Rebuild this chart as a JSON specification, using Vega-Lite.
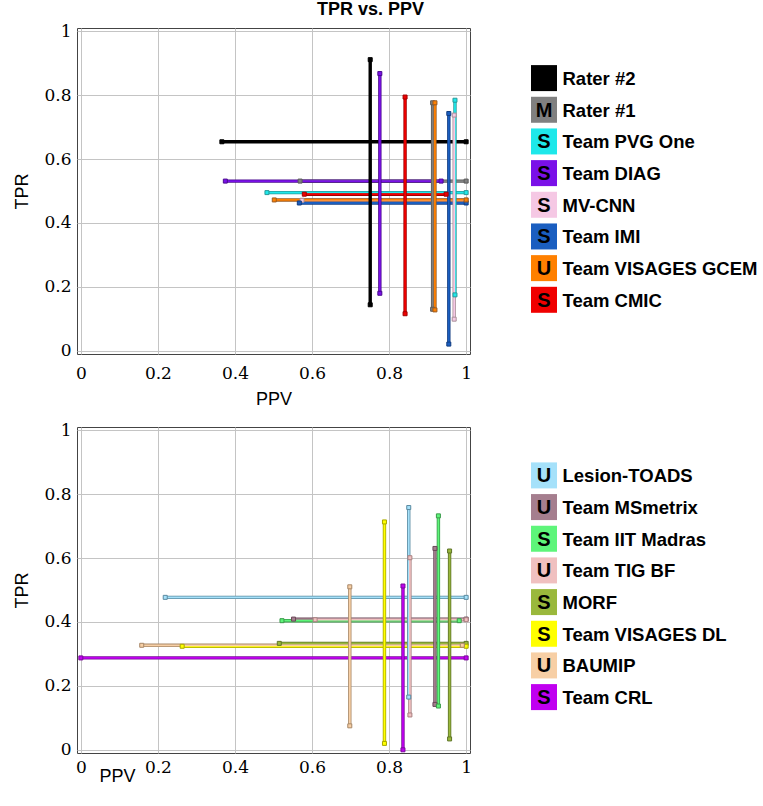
{
  "$schema": "https://vega.github.io/schema/vega-lite/v6.json",
  "padding": {"left": 13, "top": 0, "right": 0, "bottom": 0},
  "title": {"text": "TPR vs. PPV", "font": "Liberation Sans", "fontSize": 18, "fontWeight": "bold", "anchor": "middle", "offset": 3, "dx": -15, "color": "#000"},
  "config": {
    "view": {"stroke": "#444", "strokeWidth": 1},
    "axis": {"grid": true, "gridColor": "#c4c4c4", "gridWidth": 1, "domain": false, "ticks": false, "labelFont": "DejaVu Serif", "labelFontSize": 17, "labelColor": "#000", "labelFlush": false, "labelPadding": 6, "titleFont": "Liberation Sans", "titleFontSize": 18, "titleFontWeight": "normal", "titleColor": "#000", "titlePadding": 9}
  },
  "datasets": {
    "top": [
      {"method": "Rater #2", "letter": "", "ppv": 0.751, "ppv_lo": 0.366, "ppv_hi": 1.0, "tpr": 0.654, "tpr_lo": 0.144, "tpr_hi": 0.911},
      {"method": "Rater #1", "letter": "M", "ppv": 0.913, "ppv_lo": 0.569, "ppv_hi": 1.0, "tpr": 0.531, "tpr_lo": 0.13, "tpr_hi": 0.776},
      {"method": "Team PVG One", "letter": "S", "ppv": 0.971, "ppv_lo": 0.483, "ppv_hi": 1.0, "tpr": 0.495, "tpr_lo": 0.175, "tpr_hi": 0.784},
      {"method": "Team DIAG", "letter": "S", "ppv": 0.776, "ppv_lo": 0.375, "ppv_hi": 0.935, "tpr": 0.531, "tpr_lo": 0.18, "tpr_hi": 0.8675},
      {"method": "MV-CNN", "letter": "S", "ppv": 0.969, "ppv_lo": 0.574, "ppv_hi": 1.0, "tpr": 0.471, "tpr_lo": 0.099, "tpr_hi": 0.7375},
      {"method": "Team IMI", "letter": "S", "ppv": 0.955, "ppv_lo": 0.567, "ppv_hi": 1.0, "tpr": 0.4625, "tpr_lo": 0.021, "tpr_hi": 0.7425},
      {"method": "Team VISAGES GCEM", "letter": "U", "ppv": 0.919, "ppv_lo": 0.502, "ppv_hi": 1.0, "tpr": 0.472, "tpr_lo": 0.128, "tpr_hi": 0.776},
      {"method": "Team CMIC", "letter": "S", "ppv": 0.8415, "ppv_lo": 0.58, "ppv_hi": 0.948, "tpr": 0.49, "tpr_lo": 0.116, "tpr_hi": 0.794}
    ],
    "bottom": [
      {"method": "Lesion-TOADS", "letter": "U", "ppv": 0.851, "ppv_lo": 0.219, "ppv_hi": 1.0, "tpr": 0.477, "tpr_lo": 0.165, "tpr_hi": 0.758},
      {"method": "Team MSmetrix", "letter": "U", "ppv": 0.919, "ppv_lo": 0.552, "ppv_hi": 1.0, "tpr": 0.409, "tpr_lo": 0.142, "tpr_hi": 0.63},
      {"method": "Team IIT Madras", "letter": "S", "ppv": 0.928, "ppv_lo": 0.522, "ppv_hi": 0.982, "tpr": 0.404, "tpr_lo": 0.137, "tpr_hi": 0.732},
      {"method": "Team TIG BF", "letter": "U", "ppv": 0.854, "ppv_lo": 0.608, "ppv_hi": 1.0, "tpr": 0.407, "tpr_lo": 0.109, "tpr_hi": 0.601},
      {"method": "MORF", "letter": "S", "ppv": 0.957, "ppv_lo": 0.515, "ppv_hi": 1.0, "tpr": 0.333, "tpr_lo": 0.034, "tpr_hi": 0.622},
      {"method": "Team VISAGES DL", "letter": "S", "ppv": 0.788, "ppv_lo": 0.263, "ppv_hi": 1.0, "tpr": 0.324, "tpr_lo": 0.02, "tpr_hi": 0.713},
      {"method": "BAUMIP", "letter": "U", "ppv": 0.698, "ppv_lo": 0.158, "ppv_hi": 0.99, "tpr": 0.327, "tpr_lo": 0.075, "tpr_hi": 0.51},
      {"method": "Team CRL", "letter": "S", "ppv": 0.836, "ppv_lo": 0.0, "ppv_hi": 1.0, "tpr": 0.2875, "tpr_lo": 0.0, "tpr_hi": 0.5125}
    ]
  },
  "vconcat": [
    {
      "hconcat": [
        {
          "width": 393, "height": 326,
          "data": {"name": "top"},
          "layer": [
            {"mark": {"type": "rule", "strokeWidth": 3.4}, "encoding": {"x": {"field": "ppv_lo", "type": "quantitative", "scale": {"domain": [-0.01, 1.01], "nice": false, "zero": false}, "axis": {"values": [0, 0.2, 0.4, 0.6, 0.8, 1], "format": "~g", "title": "PPV", "labelPadding": 11}}, "x2": {"field": "ppv_hi"}, "y": {"field": "tpr", "type": "quantitative", "scale": {"domain": [-0.01, 1.01], "nice": false, "zero": false}, "axis": {"values": [0, 0.2, 0.4, 0.6, 0.8, 1], "format": "~g", "title": "TPR", "titlePadding": 12}}, "stroke": {"field": "method", "type": "nominal", "scale": {"domain": ["Rater #2","Rater #1","Team PVG One","Team DIAG","MV-CNN","Team IMI","Team VISAGES GCEM","Team CMIC"], "range": ["#000000","#5a5a5a","#2a9a9a","#4a0a90","#a89098","#123d80","#9a5a20","#a00000"]}, "legend": null}}},
            {"mark": {"type": "rule", "strokeWidth": 1.8}, "encoding": {"x": {"field": "ppv_lo", "type": "quantitative"}, "x2": {"field": "ppv_hi"}, "y": {"field": "tpr", "type": "quantitative"}, "color": {"field": "method", "type": "nominal", "scale": {"domain": ["Rater #2","Rater #1","Team PVG One","Team DIAG","MV-CNN","Team IMI","Team VISAGES GCEM","Team CMIC"], "range": ["#000000","#808080","#1ee8ea","#7a10e8","#f5c8e4","#1a5ec0","#ff8000","#f00000"]}, "legend": null}}},
            {"mark": {"type": "rule", "strokeWidth": 3.4}, "encoding": {"x": {"field": "ppv", "type": "quantitative"}, "y": {"field": "tpr_lo", "type": "quantitative"}, "y2": {"field": "tpr_hi"}, "stroke": {"field": "method", "type": "nominal", "legend": null}}},
            {"mark": {"type": "rule", "strokeWidth": 1.8}, "encoding": {"x": {"field": "ppv", "type": "quantitative"}, "y": {"field": "tpr_lo", "type": "quantitative"}, "y2": {"field": "tpr_hi"}, "color": {"field": "method", "type": "nominal", "legend": null}}},
            {"mark": {"type": "square", "size": 16, "filled": true, "strokeWidth": 1, "opacity": 1}, "encoding": {"x": {"field": "ppv_lo", "type": "quantitative"}, "y": {"field": "tpr", "type": "quantitative"}, "color": {"field": "method", "type": "nominal", "legend": null}, "stroke": {"field": "method", "type": "nominal", "legend": null}}},
            {"mark": {"type": "square", "size": 16, "filled": true, "strokeWidth": 1, "opacity": 1}, "encoding": {"x": {"field": "ppv_hi", "type": "quantitative"}, "y": {"field": "tpr", "type": "quantitative"}, "color": {"field": "method", "type": "nominal", "legend": null}, "stroke": {"field": "method", "type": "nominal", "legend": null}}},
            {"mark": {"type": "square", "size": 16, "filled": true, "strokeWidth": 1, "opacity": 1}, "encoding": {"x": {"field": "ppv", "type": "quantitative"}, "y": {"field": "tpr_lo", "type": "quantitative"}, "color": {"field": "method", "type": "nominal", "legend": null}, "stroke": {"field": "method", "type": "nominal", "legend": null}}},
            {"mark": {"type": "square", "size": 16, "filled": true, "strokeWidth": 1, "opacity": 1}, "encoding": {"x": {"field": "ppv", "type": "quantitative"}, "y": {"field": "tpr_hi", "type": "quantitative"}, "color": {"field": "method", "type": "nominal", "legend": null}, "stroke": {"field": "method", "type": "nominal", "legend": null}}}
          ]
        },
        {
          "width": 26, "height": 326,
          "view": {"stroke": null},
          "data": {"name": "top"},
          "encoding": {"y": {"field": "method", "type": "nominal", "scale": {"type": "point", "domain": ["Rater #2","Rater #1","Team PVG One","Team DIAG","MV-CNN","Team IMI","Team VISAGES GCEM","Team CMIC"], "range": [50.1, 271.8], "padding": 0}, "axis": null}},
          "layer": [
            {"mark": {"type": "square", "size": 676, "opacity": 1}, "encoding": {"color": {"field": "method", "type": "nominal", "scale": {"domain": ["Rater #2","Rater #1","Team PVG One","Team DIAG","MV-CNN","Team IMI","Team VISAGES GCEM","Team CMIC"], "range": ["#000000","#808080","#1ee8ea","#7a10e8","#f5c8e4","#1a5ec0","#ff8000","#f00000"]}, "legend": null}}},
            {"mark": {"type": "text", "font": "Liberation Sans", "fontWeight": "bold", "fontSize": 20, "align": "center", "baseline": "middle", "dy": 1, "color": "#000"}, "encoding": {"text": {"field": "letter"}}},
            {"mark": {"type": "text", "font": "Liberation Sans", "fontWeight": "bold", "fontSize": 18.5, "align": "left", "baseline": "middle", "dx": 18.5, "dy": 1, "color": "#000"}, "encoding": {"text": {"field": "method"}}}
          ]
        }
      ],
      "spacing": 58,
      "resolve": {"scale": {"x": "independent", "y": "independent", "color": "independent", "stroke": "independent"}}
    },
    {
      "hconcat": [
        {
          "width": 393, "height": 326,
          "data": {"name": "bottom"},
          "layer": [
            {"mark": {"type": "rule", "strokeWidth": 3.4}, "encoding": {"x": {"field": "ppv_lo", "type": "quantitative", "scale": {"domain": [-0.01, 1.01], "nice": false, "zero": false}, "axis": {"values": [0, 0.2, 0.4, 0.6, 0.8, 1], "format": "~g", "title": "PPV", "labelPadding": 6, "titleX": 40, "titleY": 14, "titleAlign": "center", "titleBaseline": "top", "titleAnchor": null}}, "x2": {"field": "ppv_hi"}, "y": {"field": "tpr", "type": "quantitative", "scale": {"domain": [-0.01, 1.01], "nice": false, "zero": false}, "axis": {"values": [0, 0.2, 0.4, 0.6, 0.8, 1], "format": "~g", "title": "TPR", "titlePadding": 12}}, "stroke": {"field": "method", "type": "nominal", "scale": {"domain": ["Lesion-TOADS","Team MSmetrix","Team IIT Madras","Team TIG BF","MORF","Team VISAGES DL","BAUMIP","Team CRL"], "range": ["#5a8aa0","#6a4858","#3a9a4a","#a88080","#5e7428","#a8a800","#a88868","#7a0a9a"]}, "legend": null}}},
            {"mark": {"type": "rule", "strokeWidth": 1.8}, "encoding": {"x": {"field": "ppv_lo", "type": "quantitative"}, "x2": {"field": "ppv_hi"}, "y": {"field": "tpr", "type": "quantitative"}, "color": {"field": "method", "type": "nominal", "scale": {"domain": ["Lesion-TOADS","Team MSmetrix","Team IIT Madras","Team TIG BF","MORF","Team VISAGES DL","BAUMIP","Team CRL"], "range": ["#a5e1fa","#a57e8e","#5ef57a","#f0c0c0","#9ab83c","#ffff00","#f7cfa5","#c000f0"]}, "legend": null}}},
            {"mark": {"type": "rule", "strokeWidth": 3.4}, "encoding": {"x": {"field": "ppv", "type": "quantitative"}, "y": {"field": "tpr_lo", "type": "quantitative"}, "y2": {"field": "tpr_hi"}, "stroke": {"field": "method", "type": "nominal", "legend": null}}},
            {"mark": {"type": "rule", "strokeWidth": 1.8}, "encoding": {"x": {"field": "ppv", "type": "quantitative"}, "y": {"field": "tpr_lo", "type": "quantitative"}, "y2": {"field": "tpr_hi"}, "color": {"field": "method", "type": "nominal", "legend": null}}},
            {"mark": {"type": "square", "size": 16, "filled": true, "strokeWidth": 1, "opacity": 1}, "encoding": {"x": {"field": "ppv_lo", "type": "quantitative"}, "y": {"field": "tpr", "type": "quantitative"}, "color": {"field": "method", "type": "nominal", "legend": null}, "stroke": {"field": "method", "type": "nominal", "legend": null}}},
            {"mark": {"type": "square", "size": 16, "filled": true, "strokeWidth": 1, "opacity": 1}, "encoding": {"x": {"field": "ppv_hi", "type": "quantitative"}, "y": {"field": "tpr", "type": "quantitative"}, "color": {"field": "method", "type": "nominal", "legend": null}, "stroke": {"field": "method", "type": "nominal", "legend": null}}},
            {"mark": {"type": "square", "size": 16, "filled": true, "strokeWidth": 1, "opacity": 1}, "encoding": {"x": {"field": "ppv", "type": "quantitative"}, "y": {"field": "tpr_lo", "type": "quantitative"}, "color": {"field": "method", "type": "nominal", "legend": null}, "stroke": {"field": "method", "type": "nominal", "legend": null}}},
            {"mark": {"type": "square", "size": 16, "filled": true, "strokeWidth": 1, "opacity": 1}, "encoding": {"x": {"field": "ppv", "type": "quantitative"}, "y": {"field": "tpr_hi", "type": "quantitative"}, "color": {"field": "method", "type": "nominal", "legend": null}, "stroke": {"field": "method", "type": "nominal", "legend": null}}}
          ]
        },
        {
          "width": 26, "height": 326,
          "view": {"stroke": null},
          "data": {"name": "bottom"},
          "encoding": {"y": {"field": "method", "type": "nominal", "scale": {"type": "point", "domain": ["Lesion-TOADS","Team MSmetrix","Team IIT Madras","Team TIG BF","MORF","Team VISAGES DL","BAUMIP","Team CRL"], "range": [48.4, 270.1], "padding": 0}, "axis": null}},
          "layer": [
            {"mark": {"type": "square", "size": 676, "opacity": 1}, "encoding": {"color": {"field": "method", "type": "nominal", "scale": {"domain": ["Lesion-TOADS","Team MSmetrix","Team IIT Madras","Team TIG BF","MORF","Team VISAGES DL","BAUMIP","Team CRL"], "range": ["#a5e1fa","#a57e8e","#5ef57a","#f0c0c0","#9ab83c","#ffff00","#f7cfa5","#c000f0"]}, "legend": null}}},
            {"mark": {"type": "text", "font": "Liberation Sans", "fontWeight": "bold", "fontSize": 20, "align": "center", "baseline": "middle", "dy": 1, "color": "#000"}, "encoding": {"text": {"field": "letter"}}},
            {"mark": {"type": "text", "font": "Liberation Sans", "fontWeight": "bold", "fontSize": 18.5, "align": "left", "baseline": "middle", "dx": 18.5, "dy": 1, "color": "#000"}, "encoding": {"text": {"field": "method"}}}
          ]
        }
      ],
      "spacing": 58,
      "resolve": {"scale": {"x": "independent", "y": "independent", "color": "independent", "stroke": "independent"}}
    }
  ],
  "spacing": 11,
  "resolve": {"scale": {"x": "independent", "y": "independent", "color": "independent", "stroke": "independent"}}
}
